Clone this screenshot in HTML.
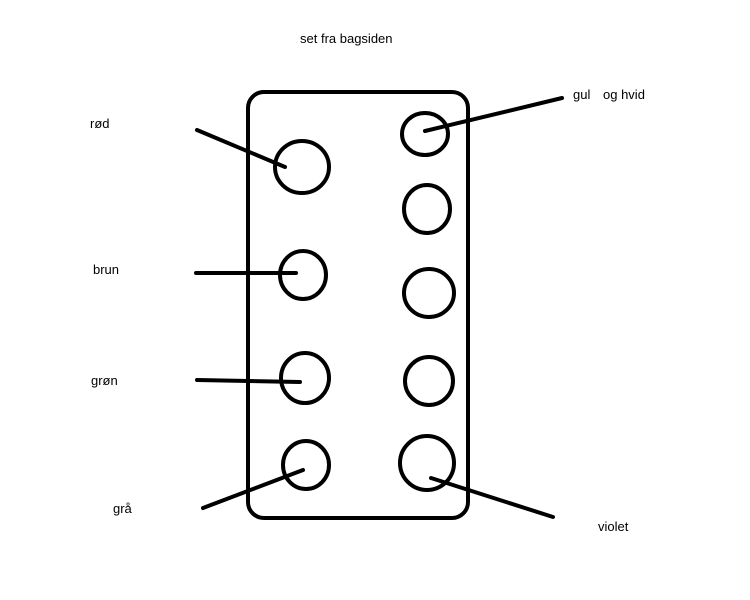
<!DOCTYPE html>
<html><head><style>body{margin:0;background:#fff}</style></head><body>
<svg width="750" height="600" xmlns="http://www.w3.org/2000/svg" style="display:block">
<rect x="0" y="0" width="750" height="600" fill="#fff"/>
<g font-family="Liberation Sans, sans-serif" font-size="13" fill="#000">
<text x="300" y="43">set fra bagsiden</text>
<text x="90" y="128">rød</text>
<text x="93" y="274">brun</text>
<text x="91" y="385">grøn</text>
<text x="113" y="513">grå</text>
<text x="573" y="99">gul</text>
<text x="603" y="99">og hvid</text>
<text x="598" y="531">violet</text>
</g>
<g fill="none" stroke="#000" stroke-width="4" stroke-linecap="round">
<rect x="248" y="92" width="220" height="426" rx="16"/>
<ellipse cx="302" cy="167" rx="27" ry="26"/>
<ellipse cx="303" cy="275" rx="23" ry="24"/>
<ellipse cx="305" cy="378" rx="24" ry="25"/>
<ellipse cx="306" cy="465" rx="23" ry="24"/>
<ellipse cx="425" cy="134" rx="23" ry="21"/>
<ellipse cx="427" cy="209" rx="23" ry="24"/>
<ellipse cx="429" cy="293" rx="25" ry="24"/>
<ellipse cx="429" cy="381" rx="24" ry="24"/>
<ellipse cx="427" cy="463" rx="27" ry="27"/>
<line x1="197" y1="130" x2="285" y2="167"/>
<line x1="196" y1="273" x2="296" y2="273"/>
<line x1="197" y1="380" x2="300" y2="382"/>
<line x1="203" y1="508" x2="303" y2="470"/>
<line x1="562" y1="98" x2="425" y2="131"/>
<line x1="431" y1="478" x2="553" y2="517"/>
</g>
</svg>
</body></html>
